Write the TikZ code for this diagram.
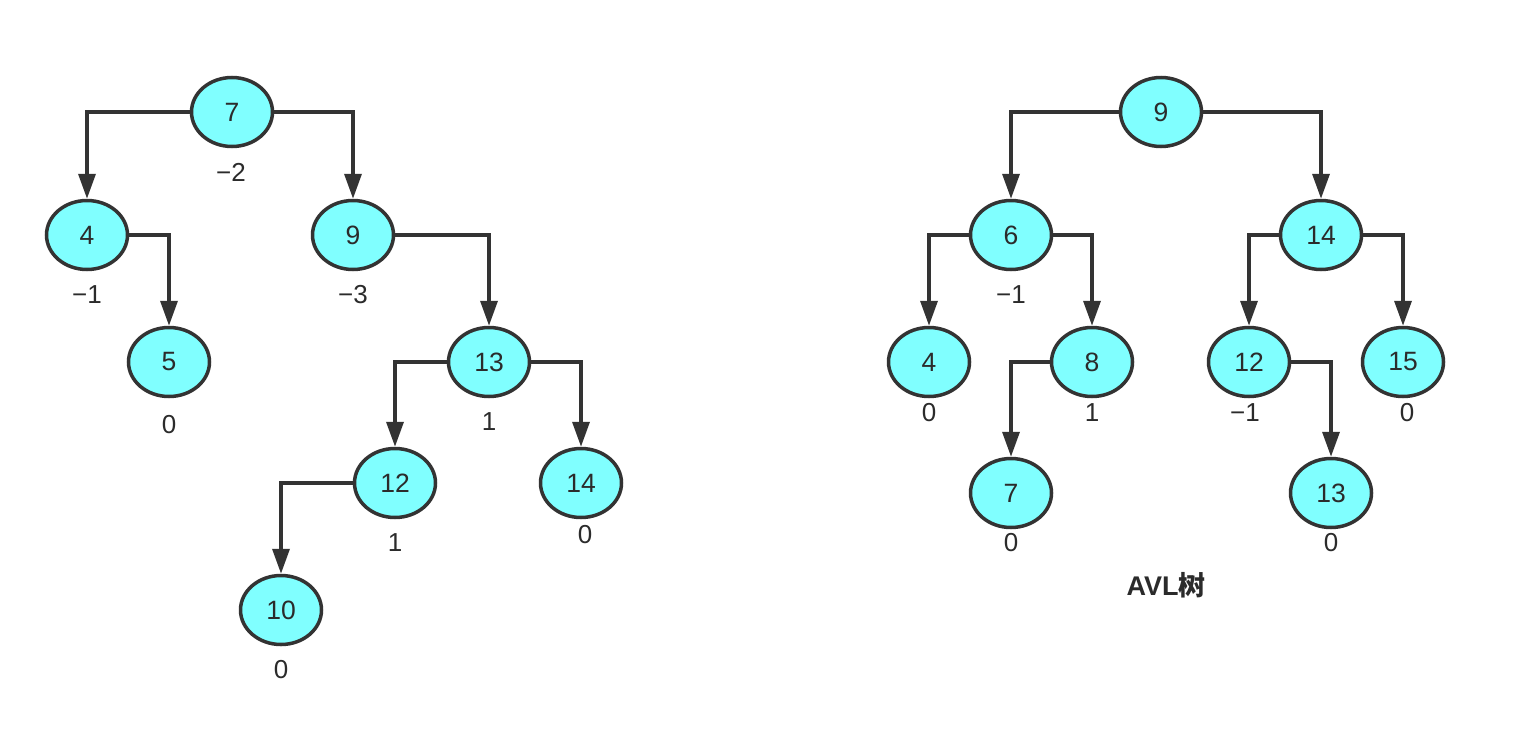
\documentclass[tikz,border=0pt]{standalone}
\usepackage{fontspec}
\setmainfont{Liberation Sans}
\newfontfamily\cjkfont{Noto Sans CJK SC}
\usetikzlibrary{shapes.geometric,arrows.meta}
\definecolor{nodefill}{HTML}{80FFFF}
\definecolor{ink}{HTML}{333333}
\definecolor{txt}{HTML}{2B2B2B}
\tikzset{
  tn/.style={ellipse, draw=ink, line width=3.5pt, fill=nodefill, minimum width=81pt, minimum height=69pt, inner sep=0pt, text=txt, font=\fontsize{26.5}{30}\selectfont},
  bf/.style={text=txt, font=\fontsize{26}{30}\selectfont, inner sep=0pt},
  link/.style={draw=ink, line width=3.5pt, -{Triangle[length=25pt,width=17pt]}},
}
\begin{document}
\begin{tikzpicture}[x=1pt,y=-1pt]
\useasboundingbox (0,0) rectangle (1530,728);
% left tree
\node[tn] (l7) at (232,112) {7};
\node[tn] (l4) at (87,235) {4};
\node[tn] (l9) at (353,235) {9};
\node[tn] (l5) at (169,362) {5};
\node[tn] (l13) at (489,362) {13};
\node[tn] (l12) at (395,483) {12};
\node[tn] (l14) at (581,483) {14};
\node[tn] (l10) at (281,610) {10};
\node[bf] (bl7) at (231,172) {−2};
\node[bf] (bl4) at (87,295) {−1};
\node[bf] (bl9) at (353,295) {−3};
\node[bf] (bl5) at (169,425) {0};
\node[bf] (bl13) at (489,422) {1};
\node[bf] (bl12) at (395,543) {1};
\node[bf] (bl14) at (585,535) {0};
\node[bf] (bl10) at (281,670) {0};
\draw[link] (l7.west) -| (l4.north);
\draw[link] (l7.east) -| (l9.north);
\draw[link] (l4.east) -| (l5.north);
\draw[link] (l9.east) -| (l13.north);
\draw[link] (l13.west) -| (l12.north);
\draw[link] (l13.east) -| (l14.north);
\draw[link] (l12.west) -| (l10.north);
% right tree
\node[tn] (r9) at (1161,112) {9};
\node[tn] (r6) at (1011,235) {6};
\node[tn] (r14) at (1321,235) {14};
\node[tn] (r4) at (929,362) {4};
\node[tn] (r8) at (1092,362) {8};
\node[tn] (r12) at (1249,362) {12};
\node[tn] (r15) at (1403,362) {15};
\node[tn] (r7) at (1011,493) {7};
\node[tn] (r13) at (1331,493) {13};
\node[bf] (br6) at (1011,295) {−1};
\node[bf] (br4) at (929,413) {0};
\node[bf] (br8) at (1092,413) {1};
\node[bf] (br12) at (1245,413) {−1};
\node[bf] (br15) at (1407,413) {0};
\node[bf] (br7) at (1011,543) {0};
\node[bf] (br13) at (1331,543) {0};
\node[bf, font=\fontsize{27}{31}\selectfont\bfseries] (title) at (1166,585) {AVL{\cjkfont 树}};
\draw[link] (r9.west) -| (r6.north);
\draw[link] (r9.east) -| (r14.north);
\draw[link] (r6.west) -| (r4.north);
\draw[link] (r6.east) -| (r8.north);
\draw[link] (r14.west) -| (r12.north);
\draw[link] (r14.east) -| (r15.north);
\draw[link] (r8.west) -| (r7.north);
\draw[link] (r12.east) -| (r13.north);
\end{tikzpicture}
\end{document}
